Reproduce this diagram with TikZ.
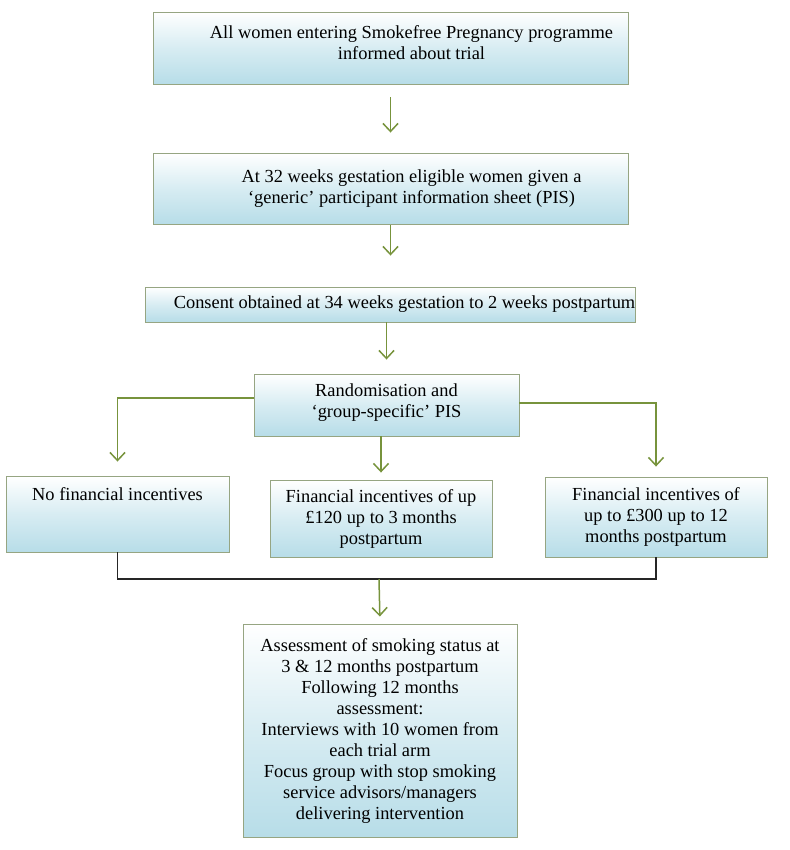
\documentclass[tikz,border=0pt]{standalone}
\usepackage{fontspec}
\setmainfont{Liberation Serif}
\usetikzlibrary{arrows.meta,calc}
\definecolor{boxblue}{RGB}{183,221,232}
\definecolor{boxedge}{RGB}{150,165,130}
\definecolor{arrgreen}{RGB}{119,147,60}
\newcommand{\rsh}{\hspace*{42pt}}
\tikzset{
  box/.style={draw=boxedge, line width=0.9pt, top color=white, bottom color=boxblue,
    middle color=boxblue!55!white, align=center, inner sep=0pt,
    font=\fontsize{18.4}{21}\selectfont},
  arr/.style={draw=arrgreen, line width=1.5pt, -{Straight Barb[length=8pt,width=15pt,line width=1.5pt]}},
  blk/.style={draw=black!85, line width=1.4pt},
}
\begin{document}
\begin{tikzpicture}[x=1pt,y=-1pt]
\useasboundingbox (0,0) rectangle (789,850);
\node[box, minimum width=475pt, minimum height=72pt] (b1) at (390.5,48)
  {\rsh All women entering Smokefree Pregnancy programme\\\rsh informed about trial\\[-11pt]};
\node[box, minimum width=475pt, minimum height=71pt] (b2) at (390.5,188.5)
  {\rsh At 32 weeks gestation eligible women given a\\\rsh ‘generic’ participant information sheet (PIS)};
\node[box, minimum width=489pt, minimum height=35pt] (b3) at (390.5,304.5)
  {\hspace*{28pt}Consent obtained at 34 weeks gestation to 2 weeks postpartum};
\node[box, minimum width=265pt, minimum height=62pt] (b4) at (386.5,405)
  {Randomisation and\\‘group-specific’ PIS\\[-12pt]};
\node[box, minimum width=223pt, minimum height=76pt, text height=21pt, text depth=49pt] (b5) at (117.5,514)
  {No financial incentives};
\node[box, minimum width=222pt, minimum height=77pt] (b6) at (381,518.5)
  {Financial incentives of up\\£120 up to 3 months\\postpartum};
\node[box, minimum width=222pt, minimum height=80pt] (b7) at (656,517)
  {Financial incentives of\\up to £300 up to 12\\months postpartum};
\node[box, minimum width=274pt, minimum height=213pt] (b8) at (380,730.5)
  {Assessment of smoking status at\\3 \& 12 months postpartum\\Following 12 months\\assessment:\\Interviews with 10 women from\\each trial arm\\Focus group with stop smoking\\service advisors/managers\\delivering intervention};
\draw[arr, shorten <=13pt, shorten >=20pt] (b1.south) -- (b2.north);
\draw[arr, shorten <=1pt, shorten >=31pt] (b2.south) -- (b3.north);
\draw[arr, shorten >=14pt] (b4.north |- b3.south) -- (b4.north);
\draw[arr, shorten >=14pt] ([yshift=7pt]b4.west) -| (b5.north);
\draw[arr, shorten >=10pt] ([yshift=2pt]b4.east) -| (b7.north);
\draw[arr, shorten >=7pt] (b6.north |- b4.south) -- (b6.north);
\coordinate (j) at (379,579);
\draw[blk] (b5.south) |- (j) -| (b7.south);
\draw[arr, shorten >=7pt] (j) -- (b8.north);
\end{tikzpicture}
\end{document}
